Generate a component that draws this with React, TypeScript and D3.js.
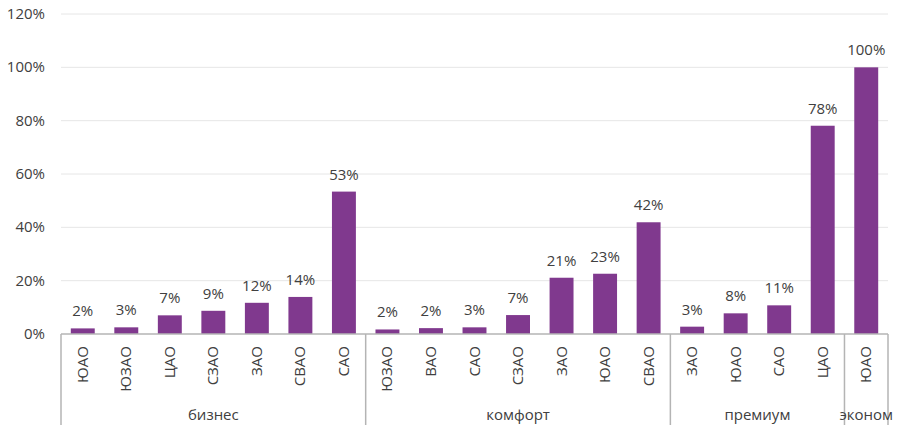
import * as d3 from 'd3'
import { useEffect, useRef } from 'react';

// группы и округа
const groups = ['бизнес', 'комфорт', 'премиум', 'эконом'];
const districts = [
  ['ЮАО', 'ЮЗАО', 'ЦАО', 'СЗАО', 'ЗАО', 'СВАО', 'САО'],
  ['ЮЗАО', 'ВАО', 'САО', 'СЗАО', 'ЗАО', 'ЮАО', 'СВАО'],
  ['ЗАО', 'ЮАО', 'САО', 'ЦАО'],
  ['ЮАО'],
];
const shares = [
  [2.1, 2.5, 7.0, 8.7, 11.7, 13.9, 53.4],
  [1.7, 2.2, 2.5, 7.1, 21.1, 22.6, 41.9],
  [2.75, 7.75, 10.75, 78.1],
  [100],
];
const yTicks = [0, 20, 40, 60, 80, 100, 120];

const W = 901, H = 430;
const left = 61, right = 888, top = 14, bottom = 334;
const FONT = '"Open Sans", sans-serif';
const TXT = '#404040';
const FS = 15;

function drawChart(svgEl: SVGSVGElement) {
  const svg = d3.select(svgEl);
  svg.selectAll('*').remove();

  // плоский список категорий
  const rows: { key: string; name: string; v: number; g: number }[] = [];
  districts.forEach((ds, gi) => ds.forEach((d, i) => rows.push({ key: gi + '-' + i, name: d, v: shares[gi][i], g: gi })));

  const x = d3.scaleBand().domain(rows.map(r => r.key)).range([left, right]).paddingInner(0.45).paddingOuter(0.225);
  const y = d3.scaleLinear().domain([0, 120]).range([bottom, top]);
  const step = x.step();

  // сетка
  svg.append('g').selectAll('line').data(yTicks.filter(t => t > 0)).enter().append('line')
    .attr('x1', left).attr('x2', right).attr('y1', d => y(d)).attr('y2', d => y(d))
    .attr('stroke', '#e6e6e6').attr('stroke-width', 1);

  svg.append('g').selectAll('text').data(yTicks).enter().append('text')
    .attr('x', 45).attr('y', d => y(d) + 5).attr('text-anchor', 'end')
    .attr('font-family', FONT).attr('font-size', FS).attr('fill', TXT)
    .text(d => d + '%');

  // столбцы
  svg.append('g').selectAll('rect').data(rows).enter().append('rect')
    .attr('x', d => x(d.key)!).attr('width', x.bandwidth())
    .attr('y', d => y(d.v)).attr('height', d => y(0) - y(d.v))
    .attr('fill', '#80398e');

  svg.append('g').selectAll('text').data(rows).enter().append('text')
    .attr('x', d => x(d.key)! + x.bandwidth() / 2).attr('y', d => y(d.v) - 12)
    .attr('text-anchor', 'middle').attr('font-family', FONT).attr('font-size', FS).attr('fill', TXT)
    .text(d => Math.round(d.v) + '%');

  // подписи округов
  svg.append('g').selectAll('text').data(rows).enter().append('text')
    .attr('transform', d => `translate(${x(d.key)! + x.bandwidth() / 2 + 5},346) rotate(-90)`)
    .attr('text-anchor', 'end').attr('font-family', FONT).attr('font-size', FS).attr('fill', TXT)
    .text(d => d.name);

  // ось и разделители групп
  const ax = svg.append('g').attr('stroke', '#b4b4b4').attr('stroke-width', 1.5);
  ax.append('line').attr('x1', left).attr('x2', right).attr('y1', bottom).attr('y2', bottom);
  let start = 0;
  const bounds: number[] = [left];
  districts.forEach(ds => { start += ds.length; bounds.push(left + start * step); });
  ax.selectAll('line.sep').data(bounds).enter().append('line').attr('class', 'sep')
    .attr('x1', d => d).attr('x2', d => d).attr('y1', bottom).attr('y2', 425);

  svg.append('g').selectAll('text').data(groups).enter().append('text')
    .attr('x', (d, i) => (bounds[i] + bounds[i + 1]) / 2).attr('y', 420)
    .attr('text-anchor', 'middle').attr('font-family', FONT).attr('font-size', FS).attr('fill', TXT)
    .text(d => d);
}

function App() {
  const ref = useRef<SVGSVGElement>(null);
  useEffect(() => {
    if (ref.current) drawChart(ref.current);
  });
  return (
    <svg ref={ref} width={W} height={H} style={{ position: 'absolute', left: 0, top: 0, background: '#fff' }}></svg>
  );
}

export default App;
